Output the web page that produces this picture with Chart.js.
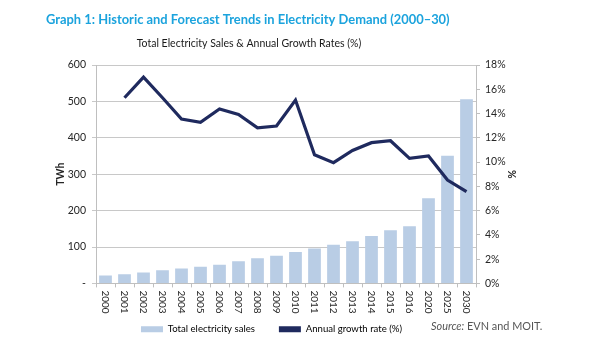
<!DOCTYPE html>
<html><head><meta charset="utf-8">
<script src="https://cdn.jsdelivr.net/npm/chart.js@4/dist/chart.umd.min.js"></script>
<style>html,body{margin:0;padding:0;background:#fff}#wrap{width:600px;height:360px}</style>
</head><body><div id="wrap"><canvas id="c" width="600" height="360"></canvas></div>
<script>
const years = ['2000','2001','2002','2003','2004','2005','2006','2007','2008','2009','2010','2011','2012','2013','2014','2015','2016','2020','2025','2030'];
const salesTWh = [22,25,30,36,41,46,51,61,69,76,86,96,106,116,130,146,157,234,351,506];
const growthPct = [null,15.3,17.0,15.3,13.55,13.27,14.37,13.93,12.83,12.97,15.11,10.6,9.95,10.96,11.6,11.76,10.3,10.5,8.52,7.56];
const titleText = 'Graph 1: Historic and Forecast Trends in Electricity Demand (2000–30)';
const subtitleText = 'Total Electricity Sales & Annual Growth Rates (%)';
const seriesNames = ['Total electricity sales','Annual growth rate (%)'];

const FONT = 'Lato, "Liberation Sans", sans-serif';
const TXT = '#262626';

const textPlugin = {
  id: 'texts',
  afterDraw(chart) {
    const ctx = chart.ctx;
    const xs = chart.scales.x;
    ctx.save();
    ctx.fillStyle = TXT;
    ctx.font = '10px ' + FONT;
    ctx.textAlign = 'left';
    ctx.textBaseline = 'middle';
    years.forEach((y, i) => {
      const px = xs.getPixelForTick(i);
      ctx.save();
      ctx.translate(px, xs.top + 7);
      ctx.rotate(Math.PI / 2);
      ctx.fillText(y, 0, 0);
      ctx.restore();
    });
    ctx.fillStyle = '#1ba3dd';
    ctx.font = 'bold 12.9px ' + FONT;
    ctx.textAlign = 'left';
    ctx.fillText(titleText, 46, 20);
    ctx.fillStyle = '#1a1a1a';
    ctx.font = '10.5px ' + FONT;
    ctx.textAlign = 'center';
    ctx.fillText(subtitleText, 249, 44);
    ctx.fillStyle = '#555';
    ctx.textAlign = 'left';
    ctx.font = 'italic 10.9px ' + FONT;
    ctx.fillText('Source:', 431, 326);
    const w = ctx.measureText('Source:').width;
    ctx.font = '10.9px ' + FONT;
    ctx.fillText(' EVN and MOIT.', 431 + w, 326);
    ctx.restore();
  }
};

new Chart(document.getElementById('c'), {
  data: {
    labels: years,
    datasets: [
      { type: 'line', label: seriesNames[1], data: growthPct, yAxisID: 'y1',
        borderColor: '#1f2a5e', backgroundColor: '#1f2a5e', borderWidth: 3.2,
        pointRadius: 0, tension: 0, spanGaps: false, order: 0 },
      { type: 'bar', label: seriesNames[0], data: salesTWh, yAxisID: 'y',
        backgroundColor: '#b9cde5', categoryPercentage: 1, barPercentage: 0.67, order: 1 }
    ]
  },
  options: {
    responsive: false,
    animation: false,
    layout: { padding: { top: 65, left: 11, right: 68, bottom: 16 } },
    plugins: {
      title: { display: false },
      tooltip: { enabled: false },
      legend: {
        position: 'bottom',
        labels: {
          font: { family: FONT, size: 9.6 }, color: TXT,
          boxWidth: 22, boxHeight: 6, padding: 24,
          generateLabels(chart) {
            return [
              { text: seriesNames[0], fillStyle: '#b9cde5', strokeStyle: '#b9cde5', lineWidth: 0, datasetIndex: 1 },
              { text: seriesNames[1], fillStyle: '#1f2a5e', strokeStyle: '#1f2a5e', lineWidth: 0, datasetIndex: 0 }
            ];
          }
        }
      }
    },
    scales: {
      x: {
        offset: true,
        grid: { offset: true, drawOnChartArea: false, color: '#bfbfbf', tickLength: 4 },
        border: { color: '#bfbfbf' },
        ticks: { color: 'rgba(0,0,0,0)', maxRotation: 0, autoSkip: false },
        afterFit(s) { s.height = 17; }
      },
      y: {
        position: 'left', min: 0, max: 600,
        ticks: { stepSize: 100, padding: 6, color: TXT, font: { family: FONT, size: 10.5 },
                 callback: v => v === 0 ? '-' : String(v) },
        grid: { color: '#c8c8c8', tickLength: 4, lineWidth: 1 },
        border: { color: '#bfbfbf' },
        title: { display: true, text: 'TWh', color: TXT, font: { family: FONT, size: 10.5, weight: 'bold' }, padding: { top: 43, bottom: 0 } },
        afterFit(s) { s.width = 85; }
      },
      y1: {
        position: 'right', min: 0, max: 18,
        ticks: { stepSize: 2, padding: 5, color: TXT, font: { family: FONT, size: 10.5 }, callback: v => v + '%' },
        grid: { drawOnChartArea: false, color: '#bfbfbf', tickLength: 4 },
        border: { color: '#bfbfbf' },
        title: { display: true, text: '%', color: TXT, font: { family: FONT, size: 10.5, weight: 'bold' }, padding: { top: 14, bottom: 0 } },
        afterFit(s) { s.width = 56; }
      }
    }
  },
  plugins: [textPlugin]
});
</script></body></html>
